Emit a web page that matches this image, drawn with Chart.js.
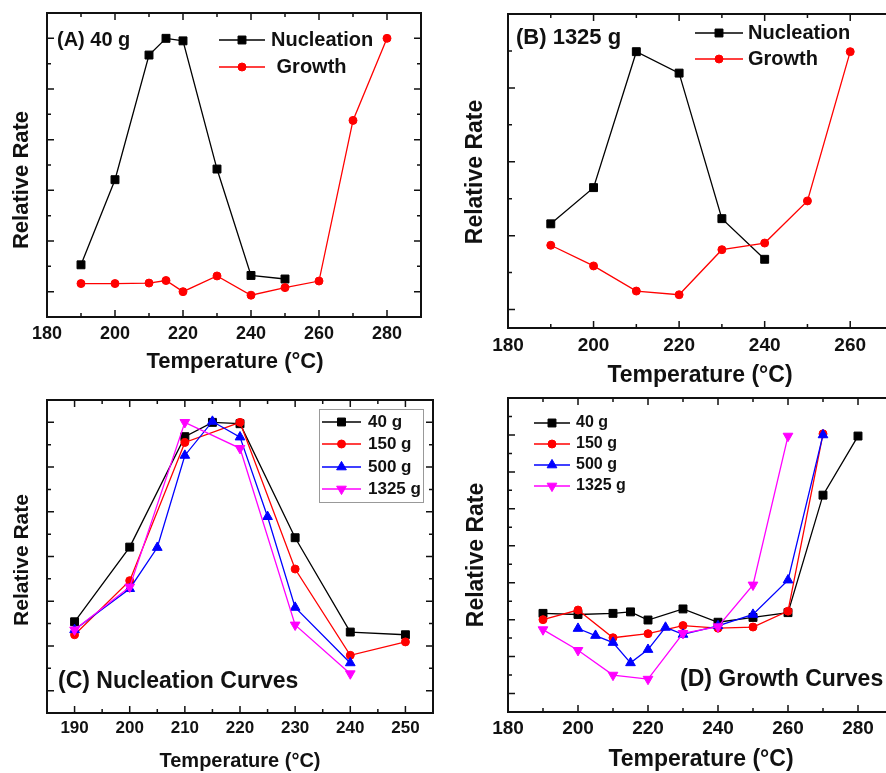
<!DOCTYPE html>
<html>
<head>
<meta charset="utf-8">
<script src="https://cdn.jsdelivr.net/npm/chart.js@4.4.1/dist/chart.umd.min.js"></script>
<style>
  html, body { margin: 0; padding: 0; background: #fff; width: 886px; height: 773px; overflow: hidden; position: relative; }
  canvas { position: absolute; }
</style>
</head>
<body>
<canvas id="chartA" width="443" height="380" style="left:0;top:0"></canvas>
<canvas id="chartC" width="443" height="393" style="left:0;top:380px"></canvas>
<canvas id="chartD" width="470" height="393" style="left:443px;top:380px"></canvas>
<canvas id="chartB" width="470" height="396" style="left:443px;top:0"></canvas>
<script>
// ---- data (relative rate, arbitrary units) ----
// (A) 40 g
const nucTempsA = [190, 200, 210, 215, 220, 230, 240, 250];
const nucA = [0.53, 2.21, 4.67, 5.0, 4.95, 2.42, 0.32, 0.25];
const groTempsA = [190, 200, 210, 215, 220, 230, 240, 250, 260, 270, 280];
const groA = [0.16, 0.16, 0.17, 0.22, 0.0, 0.31, -0.07, 0.08, 0.21, 3.38, 5.0];

// (B) 1325 g
const nucTempsB = [190, 200, 210, 220, 230, 240];
const nucB = [1.16, 1.65, 3.49, 3.2, 1.23, 0.68];
const groTempsB = [190, 200, 210, 220, 230, 240, 250, 260];
const groB = [0.87, 0.59, 0.25, 0.2, 0.81, 0.9, 1.47, 3.49];

// (C) nucleation curves
const loads = ['40 g', '150 g', '500 g', '1325 g'];
const tempsC40 = [190, 200, 210, 215, 220, 230, 240, 250];
const nucC40 = [1.54, 3.21, 5.68, 6.0, 5.97, 3.42, 1.31, 1.25];
const tempsC150 = [190, 200, 210, 220, 230, 240, 250];
const nucC150 = [1.25, 2.46, 5.55, 6.0, 2.72, 0.79, 1.09];
const tempsC500 = [190, 200, 205, 210, 215, 220, 225, 230, 240];
const nucC500 = [1.36, 2.28, 3.2, 5.26, 6.02, 5.67, 3.89, 1.86, 0.62];
const tempsC1325 = [190, 200, 210, 220, 230, 240];
const nucC1325 = [1.36, 2.32, 6.0, 5.42, 1.47, 0.38];

// (D) growth curves
const tempsD40 = [190, 200, 210, 215, 220, 230, 240, 250, 260, 270, 280];
const groD40 = [2.17, 2.14, 2.17, 2.21, 1.99, 2.29, 1.93, 2.06, 2.19, 5.37, 6.97];
const tempsD150 = [190, 200, 210, 220, 230, 240, 250, 260, 270];
const groD150 = [2.0, 2.26, 1.51, 1.62, 1.84, 1.77, 1.8, 2.23, 7.03];
const tempsD500 = [200, 205, 210, 215, 220, 225, 230, 240, 250, 260, 270];
const groD500 = [1.76, 1.57, 1.38, 0.83, 1.19, 1.79, 1.6, 1.83, 2.14, 3.07, 7.0];
const tempsD1325 = [190, 200, 210, 220, 230, 240, 250, 260];
const groD1325 = [1.73, 1.17, 0.5, 0.39, 1.63, 1.81, 2.94, 6.97];

// tick values
const xTicksA = [180, 200, 220, 240, 260, 280];
const yTicksA = [0, 1, 2, 3, 4, 5];
const xTicksB = [180, 200, 220, 240, 260];
const yTicksB = [0, 1, 2, 3];
const xTicksC = [190, 200, 210, 220, 230, 240, 250];
const yTicksC = [0, 1, 2, 3, 4, 5, 6];
const xTicksD = [180, 200, 220, 240, 260, 280];
const yTicksD = [0, 1, 2, 3, 4, 5, 6, 7];

const FONT = '"Liberation Sans", Arial, Helvetica, sans-serif';
const INK = '#111';

const STYLES = [
  { color: '#000000', pointStyle: 'rect', r: 5.6, rot: 0 },
  { color: '#ff0000', pointStyle: 'circle', r: 4, rot: 0 },
  { color: '#0000ff', pointStyle: 'triangle', r: 5.6, rot: 0 },
  { color: '#ff00ff', pointStyle: 'triangle', r: 5.6, rot: 180 }
];

function series(label, xs, ys, st, order) {
  return {
    label: label,
    data: xs.map((x, i) => ({ x: x, y: ys[i] })),
    borderColor: st.color,
    backgroundColor: st.color,
    pointBackgroundColor: st.color,
    pointBorderColor: st.color,
    pointBorderWidth: 1,
    borderWidth: 1.3,
    pointRadius: st.r,
    pointHoverRadius: st.r,
    pointStyle: st.pointStyle,
    rotation: st.rot,
    tension: 0,
    order: order
  };
}

// midpoints between majors, plus one step outside each end if still in range
function minors(ticks, min, max) {
  const out = [];
  const step = ticks[1] - ticks[0];
  for (let i = -1; i < ticks.length; i++) {
    const v = (i < 0 ? ticks[0] - step : ticks[i]) + step / 2;
    if (v > min + 1e-9 && v < max - 1e-9) out.push(v);
  }
  return out;
}

function marker(ctx, st, x, y) {
  ctx.fillStyle = st.color;
  ctx.strokeStyle = st.color;
  ctx.lineWidth = 1;
  if (Chart.helpers && Chart.helpers.drawPoint) {
    Chart.helpers.drawPoint(ctx, { pointStyle: st.pointStyle, radius: st.r, rotation: st.rot, borderWidth: 1 }, x, y);
    return;
  }
  ctx.beginPath();
  if (st.pointStyle === 'rect') {
    const s = st.r * Math.SQRT1_2;
    ctx.rect(x - s, y - s, 2 * s, 2 * s);
  } else if (st.pointStyle === 'circle') {
    ctx.arc(x, y, st.r, 0, Math.PI * 2);
  } else {
    let a = st.rot * Math.PI / 180;
    for (let k = 0; k < 3; k++) {
      const px = x + Math.sin(a) * st.r, py = y - Math.cos(a) * st.r;
      k ? ctx.lineTo(px, py) : ctx.moveTo(px, py);
      a += 2 * Math.PI / 3;
    }
    ctx.closePath();
  }
  ctx.fill();
  ctx.stroke();
}

// frame, inward ticks, panel text and legend
const decor = {
  id: 'decor',
  afterDraw(chart, args, o) {
    const { ctx, chartArea: a } = chart;
    const sx = chart.scales.x, sy = chart.scales.y;
    ctx.save();
    ctx.strokeStyle = INK;
    ctx.lineWidth = 1.5;
    ctx.beginPath();
    const xt = (vals, len) => vals.forEach(v => {
      const p = sx.getPixelForValue(v);
      ctx.moveTo(p, a.bottom); ctx.lineTo(p, a.bottom - len);
      ctx.moveTo(p, a.top); ctx.lineTo(p, a.top + len);
    });
    const yt = (vals, len) => vals.forEach(v => {
      const p = sy.getPixelForValue(v);
      ctx.moveTo(a.left, p); ctx.lineTo(a.left + len, p);
      ctx.moveTo(a.right, p); ctx.lineTo(a.right - len, p);
    });
    xt(o.xTicks, 7); xt(minors(o.xTicks, sx.min, sx.max), 4);
    yt(o.yTicks, 7); yt(minors(o.yTicks, sy.min, sy.max), 4);
    ctx.stroke();
    ctx.lineWidth = 2;
    ctx.strokeRect(a.left, a.top, a.right - a.left, a.bottom - a.top);

    ctx.fillStyle = INK;
    ctx.textBaseline = 'middle';
    (o.texts || []).forEach(t => {
      ctx.save();
      ctx.font = 'bold ' + t.size + 'px ' + FONT;
      ctx.textAlign = t.align || 'left';
      ctx.translate(t.x, t.y);
      if (t.rot) ctx.rotate(t.rot * Math.PI / 180);
      ctx.fillText(t.text, 0, 0);
      ctx.restore();
    });

    const lg = o.legend;
    if (lg) {
      if (lg.box) {
        ctx.strokeStyle = '#999';
        ctx.lineWidth = 1;
        ctx.strokeRect(lg.box[0] + 0.5, lg.box[1] + 0.5, lg.box[2], lg.box[3]);
      }
      chart.data.datasets.forEach((ds, i) => {
        const st = STYLES[lg.styles[i]];
        const yy = lg.rows[i];
        ctx.strokeStyle = st.color;
        ctx.lineWidth = 1.3;
        ctx.beginPath();
        ctx.moveTo(lg.x1, yy); ctx.lineTo(lg.x2, yy);
        ctx.stroke();
        marker(ctx, st, (lg.x1 + lg.x2) / 2, yy);
        ctx.fillStyle = INK;
        ctx.font = 'bold ' + lg.size + 'px ' + FONT;
        ctx.textAlign = 'left';
        ctx.textBaseline = 'middle';
        ctx.fillText(ds.label, lg.textX[i], yy);
      });
    }
    ctx.restore();
  }
};

function makeChart(id, datasets, cfg) {
  return new Chart(document.getElementById(id), {
    type: 'line',
    data: { datasets: datasets },
    plugins: [decor],
    options: {
      responsive: false,
      animation: false,
      devicePixelRatio: 1,
      layout: { padding: cfg.padding },
      scales: {
        x: {
          type: 'linear',
          min: cfg.xMin, max: cfg.xMax,
          grid: { display: false, drawTicks: false },
          border: { display: false },
          afterBuildTicks: s => { s.ticks = cfg.xTicks.map(v => ({ value: v })); },
          afterFit: s => { s.height = 30; },
          ticks: {
            color: INK, padding: cfg.tickPad, maxRotation: 0, autoSkip: false,
            font: { family: FONT, size: cfg.tickSize, weight: 'bold' }
          }
        },
        y: { type: 'linear', display: false, min: cfg.yMin, max: cfg.yMax }
      },
      plugins: {
        legend: { display: false },
        tooltip: { enabled: false },
        decor: { xTicks: cfg.xTicks, yTicks: cfg.yTicks, texts: cfg.texts, legend: cfg.legend }
      }
    }
  });
}

const xTitle = 'Temperature (°C)';
const yTitle = 'Relative Rate';

makeChart('chartA', [
  series('Nucleation', nucTempsA, nucA, STYLES[0], 1),
  series(' Growth', groTempsA, groA, STYLES[1], 0)
], {
  padding: { left: 47, top: 13, right: 22, bottom: 33 },
  xMin: 180, xMax: 290, yMin: -0.5, yMax: 5.5,
  xTicks: xTicksA, yTicks: yTicksA, tickSize: 18, tickPad: 6,
  texts: [
    { text: '(A) 40 g', x: 57, y: 40, size: 20 },
    { text: xTitle, x: 235, y: 362, size: 22, align: 'center' },
    { text: yTitle, x: 22, y: 180, size: 22, align: 'center', rot: -90 }
  ],
  legend: { x1: 219, x2: 265, textX: [271, 271], rows: [40, 67], size: 20, styles: [0, 1] }
});

makeChart('chartB', [
  series('Nucleation', nucTempsB, nucB, STYLES[0], 1),
  series('Growth', groTempsB, groB, STYLES[1], 0)
], {
  padding: { left: 65, top: 14, right: 20, bottom: 38 },
  xMin: 180, xMax: 270, yMin: -0.25, yMax: 4.0,
  xTicks: xTicksB, yTicks: yTicksB, tickSize: 19, tickPad: 6,
  texts: [
    { text: '(B) 1325 g', x: 73, y: 38, size: 22 },
    { text: xTitle, x: 257, y: 376, size: 23, align: 'center' },
    { text: yTitle, x: 33, y: 172, size: 23, align: 'center', rot: -90 }
  ],
  legend: { x1: 252, x2: 300, textX: [305, 305], rows: [33, 59], size: 20, styles: [0, 1] }
});

makeChart('chartC', [
  series(loads[0], tempsC40, nucC40, STYLES[0], 3),
  series(loads[1], tempsC150, nucC150, STYLES[1], 2),
  series(loads[2], tempsC500, nucC500, STYLES[2], 1),
  series(loads[3], tempsC1325, nucC1325, STYLES[3], 0)
], {
  padding: { left: 47, top: 20, right: 10, bottom: 30 },
  xMin: 185, xMax: 255, yMin: -0.5, yMax: 6.5,
  xTicks: xTicksC, yTicks: yTicksC, tickSize: 17, tickPad: 5,
  texts: [
    { text: '(C) Nucleation Curves', x: 58, y: 302, size: 23 },
    { text: xTitle, x: 240, y: 381, size: 20, align: 'center' },
    { text: yTitle, x: 22, y: 180, size: 21, align: 'center', rot: -90 }
  ],
  legend: { box: [319, 29, 104, 93], x1: 322, x2: 361, textX: [368, 368, 368, 368], rows: [42, 64, 87, 109], size: 17, styles: [0, 1, 2, 3] }
});

makeChart('chartD', [
  series(loads[0], tempsD40, groD40, STYLES[0], 3),
  series(loads[1], tempsD150, groD150, STYLES[1], 2),
  series(loads[2], tempsD500, groD500, STYLES[2], 1),
  series(loads[3], tempsD1325, groD1325, STYLES[3], 0)
], {
  padding: { left: 65, top: 18, right: 20, bottom: 31 },
  xMin: 180, xMax: 290, yMin: -0.5, yMax: 8.0,
  xTicks: xTicksD, yTicks: yTicksD, tickSize: 19, tickPad: 5,
  texts: [
    { text: '(D) Growth Curves', x: 237, y: 300, size: 23 },
    { text: xTitle, x: 258, y: 380, size: 23, align: 'center' },
    { text: yTitle, x: 34, y: 175, size: 23, align: 'center', rot: -90 }
  ],
  legend: { x1: 91, x2: 127, textX: [133, 133, 133, 133], rows: [43, 64, 85, 106], size: 16, styles: [0, 1, 2, 3] }
});
</script>
</body>
</html>
